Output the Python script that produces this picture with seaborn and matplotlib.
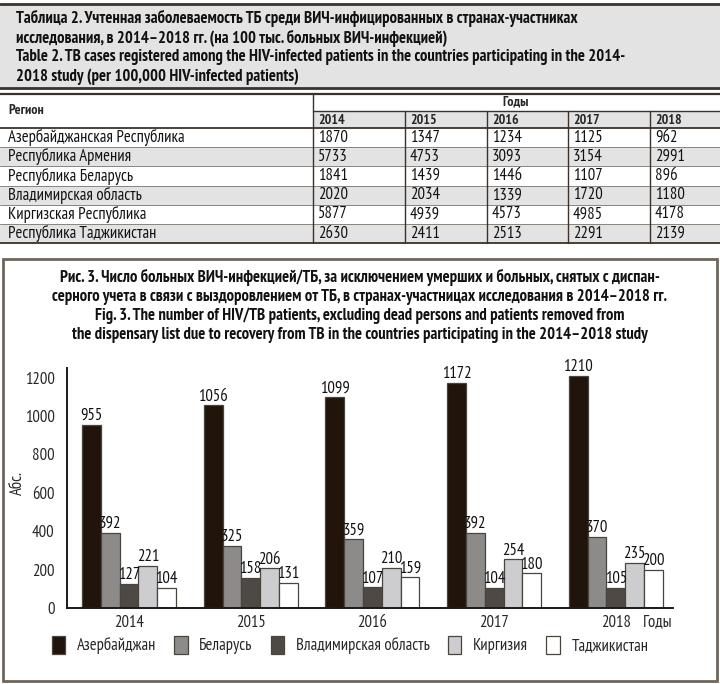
import pandas as pd
import matplotlib
matplotlib.use('Agg')
import matplotlib.pyplot as plt
from matplotlib import font_manager
from matplotlib.patches import Rectangle, Patch
import seaborn as sns

# --- data ---
table_years = ['2014', '2015', '2016', '2017', '2018']
table_regions = ['Азербайджанская Республика', 'Республика Армения', 'Республика Беларусь',
                 'Владимирская область', 'Киргизская Республика', 'Республика Таджикистан']
table_values = [
    [1870, 1347, 1234, 1125, 962],
    [5733, 4753, 3093, 3154, 2991],
    [1841, 1439, 1446, 1107, 896],
    [2020, 2034, 1339, 1720, 1180],
    [5877, 4939, 4573, 4985, 4178],
    [2630, 2411, 2513, 2291, 2139],
]

years = ['2014', '2015', '2016', '2017', '2018']
series_names = ['Азербайджан', 'Беларусь', 'Владимирская область', 'Киргизия', 'Таджикистан']
azerbaijan = [955, 1056, 1099, 1172, 1210]
belarus = [392, 325, 359, 392, 370]
vladimir = [127, 158, 107, 104, 105]
kyrgyzstan = [221, 206, 210, 254, 235]
tajikistan = [104, 131, 159, 180, 200]

table_title = ('Таблица 2. Учтенная заболеваемость ТБ среди ВИЧ-инфицированных в странах-участниках\n'
               'исследования, в 2014–2018 гг. (на 100 тыс. больных ВИЧ-инфекцией)\n'
               'Table 2. TB cases registered among the HIV-infected patients in the countries participating in the 2014-\n'
               '2018 study (per 100,000 HIV-infected patients)')
fig_title = ('Рис. 3. Число больных ВИЧ-инфекцией/ТБ, за исключением умерших и больных, снятых с диспан-\n'
             'серного учета в связи с выздоровлением от ТБ, в странах-участницах исследования в 2014–2018 гг.\n'
             'Fig. 3. The number of HIV/TB patients, excluding dead persons and patients removed from\n'
             'the dispensary list due to recovery from TB in the countries participating in the 2014–2018 study')

# --- style ---
sns.set_style('white')
installed = {f.name for f in font_manager.fontManager.ttflist}
narrow_pref = ['PT Sans Narrow', 'Roboto Condensed', 'Liberation Sans Narrow', 'Fira Sans Condensed',
               'IBM Plex Sans Condensed', 'Sofia Sans Condensed', 'Open Sans Condensed',
               'DejaVu Sans Condensed']
narrow = next((f for f in narrow_pref if f in installed), 'DejaVu Sans')
FAM = [narrow, 'DejaVu Sans']
plt.rcParams['font.family'] = FAM
plt.rcParams['axes.unicode_minus'] = False

colors = ['#21140a', '#8d8b89', '#4e4945', '#cdccce', '#ffffff']
line_c = '#3a322b'
shade_c = '#e3e3e3'

fig = plt.figure(figsize=(7.2, 6.84), dpi=100)
bg = fig.add_axes([0, 0, 1, 1])
bg.set_xlim(0, 720)
bg.set_ylim(684, 0)
bg.axis('off')

# table header box
bg.add_patch(Rectangle((0, 4), 720, 84, facecolor=shade_c, edgecolor='none'))
bg.plot([0, 720], [4, 4], color=line_c, lw=2)
bg.plot([0, 720], [88, 88], color=line_c, lw=2)
bg.text(16, 47, table_title, fontsize=12, fontweight='bold', va='center', ha='left',
        linespacing=1.22, color='#111111')

# table body
seps = [313, 405, 487, 568, 650]
row_top = 128
row_h = 19.2
bg.add_patch(Rectangle((313, 111), 407, 17, facecolor=shade_c, edgecolor='none'))
for i in range(len(table_regions)):
    if i % 2 == 1:
        bg.add_patch(Rectangle((0, row_top + i * row_h), 720, row_h, facecolor=shade_c, edgecolor='none'))
bg.plot([0, 720], [94, 94], color=line_c, lw=1.6)
bg.plot([313, 720], [111, 111], color=line_c, lw=1)
bg.plot([0, 720], [row_top, row_top], color=line_c, lw=1.3)
for i in range(1, len(table_regions)):
    y = row_top + i * row_h
    bg.plot([0, 720], [y, y], color='#8a847e', lw=0.7)
bottom = row_top + len(table_regions) * row_h
bg.plot([0, 720], [bottom, bottom], color=line_c, lw=1.3)
bg.plot([313, 313], [94, bottom], color=line_c, lw=1)
for x in seps[1:]:
    bg.plot([x, x], [111, bottom], color=line_c, lw=1)

bg.text(8, 111, 'Регион', fontsize=10, fontweight='bold', va='center', ha='left')
bg.text(516, 102, 'Годы', fontsize=10, fontweight='bold', va='center', ha='center')
for x, yr in zip(seps, table_years):
    bg.text(x + 5, 120, yr, fontsize=10, fontweight='bold', va='center', ha='left')
for i, (reg, vals) in enumerate(zip(table_regions, table_values)):
    yc = row_top + (i + 0.5) * row_h
    bg.text(8, yc, reg, fontsize=12, va='center', ha='left', color='#111111')
    for x, v in zip(seps, vals):
        bg.text(x + 5, yc, str(v), fontsize=12, va='center', ha='left', color='#111111')

# chart box
bg.add_patch(Rectangle((3, 259), 714, 422, facecolor='none', edgecolor='#6e665e', lw=2))
bg.text(360, 306, fig_title, fontsize=12, fontweight='bold', va='center', ha='center',
        linespacing=1.22, color='#111111')

# --- bar chart ---
df = pd.DataFrame({
    'year': years * 5,
    'region': [n for n in series_names for _ in years],
    'value': azerbaijan + belarus + vladimir + kyrgyzstan + tajikistan,
})

ax = fig.add_axes([67 / 720, (684 - 608) / 684, 606 / 720, 240 / 684])
sns.barplot(data=df, x='year', y='value', hue='region', hue_order=series_names,
            palette=colors, saturation=1, width=0.772, gap=0, edgecolor='#4a443e',
            linewidth=0.9, legend=False, ax=ax)
ax.set_xlim(-0.51, 4.47)
ax.set_ylim(0, 1250)
ax.set_yticks(range(0, 1201, 200))
for c in ax.containers:
    ax.bar_label(c, fontsize=12, padding=0.5, color='#111111')

ax.set_xlabel('')
ax.set_ylabel('Абс.', fontsize=12)
ax.yaxis.set_label_coords(-41 / 606, 0.52)
ax.spines['top'].set_visible(False)
ax.spines['right'].set_visible(False)
for s in ['left', 'bottom']:
    ax.spines[s].set_color('#1a1a1a')
    ax.spines[s].set_linewidth(1.4)
ax.tick_params(axis='y', direction='out', length=6, width=1, color='#1a1a1a', labelsize=12, pad=3)
ax.tick_params(axis='x', length=0, labelsize=12, pad=5)
ax.text(1.0, -0.058, 'Годы', transform=ax.transAxes, fontsize=12, ha='right', va='center')

handles = [Patch(facecolor=c, edgecolor='#4a443e', lw=0.9) for c in colors]
fig.legend(handles, series_names, loc='center', bbox_to_anchor=(350 / 720, 1 - 645 / 684),
           ncol=5, frameon=False, fontsize=12, handlelength=0.8, handleheight=1.3,
           handletextpad=0.7, columnspacing=1.1)

fig.savefig('out.png', dpi=100)
